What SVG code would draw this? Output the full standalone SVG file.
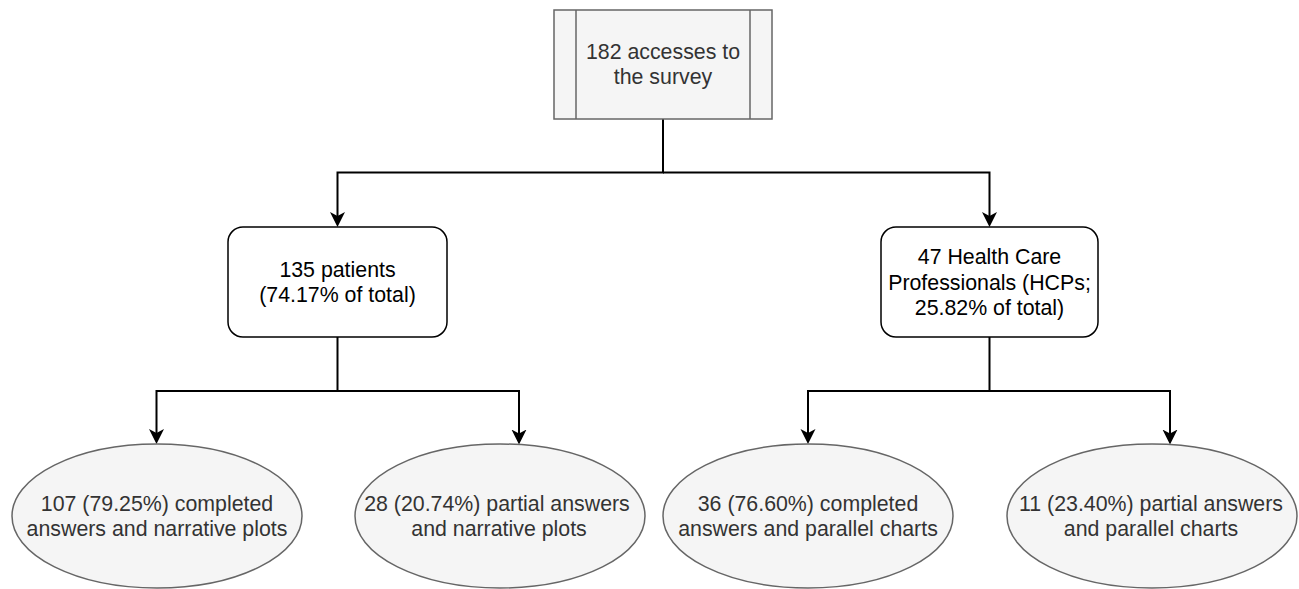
<svg xmlns="http://www.w3.org/2000/svg" width="1299" height="589" viewBox="0 0 1299 589">
<style>
  .t { font-family: "Liberation Sans", Arial, sans-serif; font-size: 21.33px; text-anchor: middle; }
  .dark { fill: #333333; }
  .blk { fill: #000000; }
  .gray { fill: #f5f5f5; stroke: #666666; stroke-width: 1.5; }
  .box { fill: #ffffff; stroke: #000000; stroke-width: 1.5; }
  .conn { fill: none; stroke: #000000; stroke-width: 2; }
</style>
<defs>
  <marker id="arr" markerUnits="userSpaceOnUse" markerWidth="16" markerHeight="16" viewBox="0 0 16 16" refX="9" refY="7.5" orient="auto">
    <path d="M15,7.5 L0,0 L4,7.5 L0,15 Z" fill="#000000"/>
  </marker>
</defs>
<rect width="1299" height="589" fill="#ffffff"/>
<g id="connectors">
  <path class="conn" d="M663,119 V172.5 H337.5 V221" marker-end="url(#arr)"/>
  <path class="conn" d="M663,172.5 H989.5 V221" marker-end="url(#arr)"/>
  <path class="conn" d="M337.5,337 V391 H156.5 V438" marker-end="url(#arr)"/>
  <path class="conn" d="M337.5,391 H519 V438.5" marker-end="url(#arr)"/>
  <path class="conn" d="M989.5,337 V391 H808 V438" marker-end="url(#arr)"/>
  <path class="conn" d="M989.5,391 H1170 V438.5" marker-end="url(#arr)"/>
</g>
<g id="node-survey">
  <rect class="gray" x="554" y="10" width="218" height="109"/>
  <line x1="576" y1="10" x2="576" y2="119" stroke="#666666" stroke-width="1.5"/>
  <line x1="750" y1="10" x2="750" y2="119" stroke="#666666" stroke-width="1.5"/>
  <text class="t dark" x="663" y="58.7">182 accesses to</text>
  <text class="t dark" x="663" y="84.3">the survey</text>
</g>
<g id="node-patients">
  <rect class="box" x="228" y="227" width="219" height="110" rx="15" ry="15"/>
  <text class="t blk" x="337.5" y="276.7">135 patients</text>
  <text class="t blk" x="337.5" y="302.3">(74.17% of total)</text>
</g>
<g id="node-hcps">
  <rect class="box" x="881" y="227" width="217" height="110" rx="15" ry="15"/>
  <text class="t blk" x="989.5" y="263.9">47 Health Care</text>
  <text class="t blk" x="989.5" y="289.5">Professionals (HCPs;</text>
  <text class="t blk" x="989.5" y="315.1">25.82% of total)</text>
</g>
<g id="node-patients-completed">
  <ellipse class="gray" cx="157" cy="516" rx="145" ry="72"/>
  <text class="t dark" x="157" y="510.7">107 (79.25%) completed</text>
  <text class="t dark" x="157" y="536.3">answers and narrative plots</text>
</g>
<g id="node-patients-partial">
  <ellipse class="gray" cx="500" cy="516" rx="145" ry="72"/>
  <text class="t dark" x="497" y="510.7">28 (20.74%) partial answers</text>
  <text class="t dark" x="499" y="536.3">and narrative plots</text>
</g>
<g id="node-hcps-completed">
  <ellipse class="gray" cx="808" cy="516" rx="145" ry="72"/>
  <text class="t dark" x="808" y="510.7">36 (76.60%) completed</text>
  <text class="t dark" x="808" y="536.3">answers and parallel charts</text>
</g>
<g id="node-hcps-partial">
  <ellipse class="gray" cx="1152" cy="516" rx="145" ry="72"/>
  <text class="t dark" x="1151" y="510.7">11 (23.40%) partial answers</text>
  <text class="t dark" x="1151" y="536.3">and parallel charts</text>
</g>
</svg>
